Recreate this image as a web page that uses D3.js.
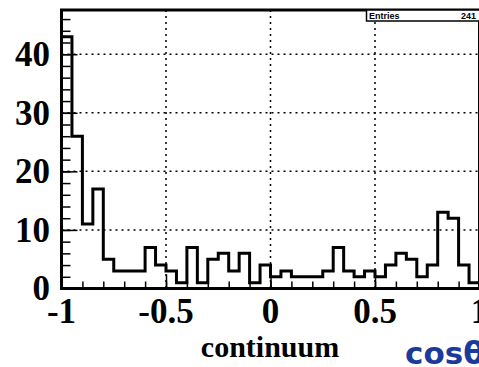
<!DOCTYPE html>
<html>
<head>
<meta charset="utf-8">
<script src="https://cdn.jsdelivr.net/npm/d3@7"></script>
<style>
  html, body { margin: 0; padding: 0; background: #fff; overflow: hidden; }
  svg { display: block; }
</style>
</head>
<body>
<div id="chart"></div>
<script>
// 40 bins over [-1, 1]
const binEdges = d3.range(41).map(i => -1 + i * 0.05);
const counts = [
  43, 26, 11, 17, 5, 3, 3, 3, 7, 4,
  3, 1, 7, 1, 5, 6, 3, 6, 1, 4,
  2, 3, 2, 2, 2, 3, 7, 3, 2, 3,
  2, 4, 6, 5, 2, 4, 13, 12, 4, 1
];
const xMajor = [-1, -0.5, 0, 0.5, 1];
const xMajorLabels = ["-1", "-0.5", "0", "0.5", "1"];
const yMajor = [0, 10, 20, 30, 40];
const entries = 241;

const width = 479, height = 367;
const frame = { left: 61.5, right: 479.5, top: 10, bottom: 288.5 };

const svg = d3.select("#chart")
  .append("svg")
  .attr("width", width)
  .attr("height", height);

const x = d3.scaleLinear()
  .domain([-1, 1])
  .range([frame.left, frame.right]);

const y = d3.scaleLinear()
  .domain([0, 47.55])
  .range([frame.bottom, frame.top]);

// dotted grid
const grid = svg.append("g")
  .attr("stroke", "#000")
  .attr("stroke-width", 1.5)
  .attr("stroke-dasharray", "2,4");

grid.selectAll(".gx")
  .data(xMajor.slice(1, -1))
  .enter().append("line")
  .attr("x1", d => x(d)).attr("x2", d => x(d))
  .attr("y1", frame.top).attr("y2", frame.bottom);

grid.selectAll(".gy")
  .data(yMajor.slice(1))
  .enter().append("line")
  .attr("x1", frame.left).attr("x2", frame.right)
  .attr("y1", d => y(d)).attr("y2", d => y(d));

// minor + major ticks, drawn inside the frame
svg.append("g")
  .attr("transform", `translate(0,${frame.bottom})`)
  .call(d3.axisBottom(x).tickValues(d3.range(-1, 1.001, 0.1)).tickSize(-7).tickFormat(""))
  .call(g => g.select(".domain").remove())
  .call(g => g.selectAll("line").attr("stroke-width", 1.5));

svg.append("g")
  .attr("transform", `translate(0,${frame.bottom})`)
  .call(d3.axisBottom(x).tickValues(xMajor).tickSize(-14).tickFormat(""))
  .call(g => g.select(".domain").remove())
  .call(g => g.selectAll("line").attr("stroke-width", 1.5));

svg.append("g")
  .attr("transform", `translate(${frame.left},0)`)
  .call(d3.axisLeft(y).tickValues(d3.range(0, 47, 2)).tickSize(-9).tickFormat(""))
  .call(g => g.select(".domain").remove())
  .call(g => g.selectAll("line").attr("stroke-width", 1.5));

svg.append("g")
  .attr("transform", `translate(${frame.left},0)`)
  .call(d3.axisLeft(y).tickValues(yMajor).tickSize(-16).tickFormat(""))
  .call(g => g.select(".domain").remove())
  .call(g => g.selectAll("line").attr("stroke-width", 1.5));

// histogram outline
let d = `M${x(binEdges[0])},${y(0)}`;
counts.forEach((c, i) => {
  d += `L${x(binEdges[i])},${y(c)}L${x(binEdges[i + 1])},${y(c)}`;
});
d += `L${x(binEdges[binEdges.length - 1])},${y(0)}`;

svg.append("path")
  .attr("d", d)
  .attr("fill", "none")
  .attr("stroke", "#000")
  .attr("stroke-width", 3)
  .attr("stroke-linejoin", "miter");

// frame
svg.append("rect")
  .attr("x", frame.left)
  .attr("y", frame.top)
  .attr("width", frame.right - frame.left)
  .attr("height", frame.bottom - frame.top)
  .attr("fill", "none")
  .attr("stroke", "#000")
  .attr("stroke-width", 3);

// tick labels
const labelFont = "'Liberation Serif', 'Times New Roman', serif";

svg.append("g").selectAll("text")
  .data(xMajor)
  .enter().append("text")
  .attr("x", d => x(d))
  .attr("y", 323)
  .attr("text-anchor", "middle")
  .attr("font-family", labelFont)
  .attr("font-weight", "bold")
  .attr("font-size", 35)
  .text((d, i) => xMajorLabels[i]);

svg.append("g").selectAll("text")
  .data(yMajor)
  .enter().append("text")
  .attr("x", 50)
  .attr("y", d => y(d))
  .attr("dy", "0.34em")
  .attr("text-anchor", "end")
  .attr("font-family", labelFont)
  .attr("font-weight", "bold")
  .attr("font-size", 35)
  .text(d => d);

// axis title
svg.append("text")
  .attr("x", 270)
  .attr("y", 357)
  .attr("text-anchor", "middle")
  .attr("font-family", labelFont)
  .attr("font-weight", "bold")
  .attr("font-size", 30)
  .text("continuum");

svg.append("text")
  .attr("x", 405)
  .attr("y", 364)
  .attr("font-family", "'DejaVu Sans', sans-serif")
  .attr("font-weight", "bold")
  .attr("font-size", 31)
  .attr("fill", "#1a3a9e")
  .text("cosθ");

// stats box
const stats = svg.append("g");
stats.append("rect")
  .attr("x", 366.5)
  .attr("y", frame.top)
  .attr("width", 115)
  .attr("height", 11)
  .attr("fill", "#fff")
  .attr("stroke", "#000")
  .attr("stroke-width", 1.5);

stats.append("text")
  .attr("x", 369)
  .attr("y", 19)
  .attr("font-family", "'Liberation Sans', Arial, sans-serif")
  .attr("font-weight", "bold")
  .attr("font-size", 9)
  .text("Entries");

stats.append("text")
  .attr("x", 476)
  .attr("y", 19)
  .attr("text-anchor", "end")
  .attr("font-family", "'Liberation Sans', Arial, sans-serif")
  .attr("font-weight", "bold")
  .attr("font-size", 9)
  .text(entries);
</script>
</body>
</html>
